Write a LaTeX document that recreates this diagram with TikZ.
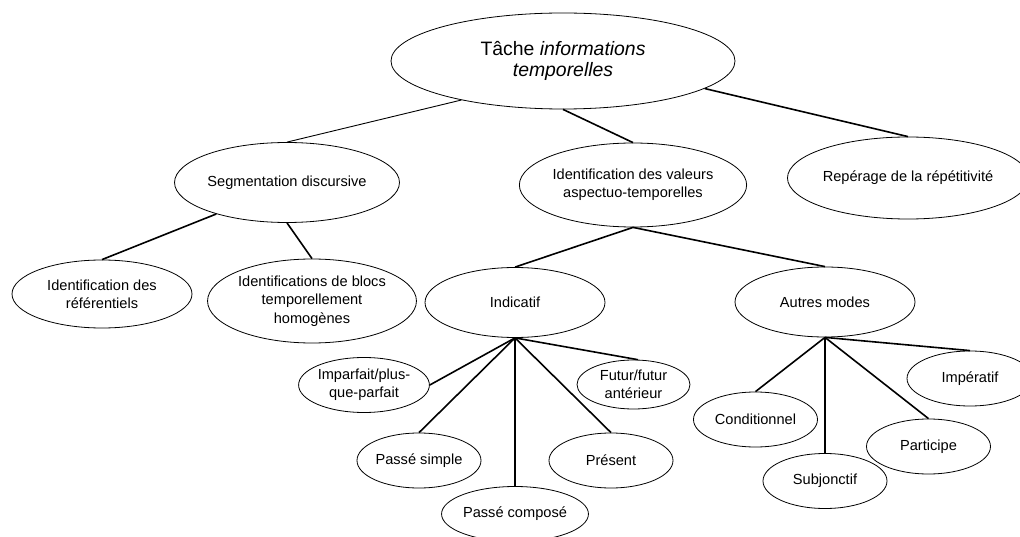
\documentclass[tikz,border=0pt]{standalone}
\usepackage{fontspec}
\setmainfont{Liberation Sans}
\usepackage{tikz}
\usetikzlibrary{shapes,positioning}

\begin{document}
\begin{tikzpicture}[
    x=1pt, y=-1pt,
    root/.style={ellipse, draw=black, fill=white, line width=0.8pt, inner sep=0pt, minimum width=344, minimum height=96, align=center, font=\fontsize{19.4}{21.7}\selectfont},
    task/.style={ellipse, draw=black, fill=white, line width=0.8pt, inner sep=0pt, align=center, font=\fontsize{14.6}{18.3}\selectfont},
    leaf/.style={task, minimum width=124, minimum height=55},
    link/.style={draw=black, line width=1.6pt},
    thinlink/.style={draw=black, line width=0.9pt}
]
\useasboundingbox (0,0) rectangle (1020,537);

% Root
\node [root] (tache) at (563,61) {T\^ache \textit{informations}\\\textit{temporelles}};

% First level
\node [task, minimum width=208, minimum height=80] (segm) at (287,182.5) {Segmentation discursive};
\node [task, minimum width=206, minimum height=84] (valeurs) at (633,185) {Identification des valeurs\\aspectuo-temporelles};
\node [task, minimum width=210, minimum height=82] (repet) at (908,178) {Rep\'erage de la r\'ep\'etitivit\'e};

% Segmentation level
\node [task, minimum width=180, minimum height=68] (referent) at (102,294) {Identification des\\r\'ef\'erentiels};
\node [task, minimum width=186, minimum height=84] (blocs) at (312,301) {Identifications de blocs\\temporellement\\homog\`enes};

% Modes
\node [task, minimum width=180, minimum height=70] (indic) at (515,302.5) {Indicatif};
\node [task, minimum width=180, minimum height=70] (autres) at (825,302) {Autres modes};

% Indicative tenses
\node [leaf] (imparf) at (364,385) {Imparfait/plus-\\que-parfait};
\node [leaf, minimum width=113, minimum height=49] (futur) at (633.5,384.5) {Futur/futur\\ant\'erieur};
\node [leaf] (psimple) at (419,460.5) {Pass\'e simple};
\node [leaf] (pcompose) at (515,514) {Pass\'e compos\'e};
\node [leaf] (present) at (611,460.5) {Pr\'esent};

% Other moods
\node [leaf] (condit) at (755.5,419.5) {Conditionnel};
\node [leaf] (subj) at (825,481) {Subjonctif};
\node [leaf] (partic) at (928.5,446.5) {Participe};
\node [leaf, minimum width=126] (imper) at (970,378.5) {Imp\'eratif};

% Links - Root
\draw [thinlink] (tache.201) -- (segm.north);
\draw [link] (tache.south) -- (valeurs.north);
\draw [link] (tache.-11) -- (repet.north);

% Links - Segmentation
\draw [link] (segm.204) -- (referent.north);
\draw [link] (segm.south) -- (blocs.north);

% Links - Values to modes
\draw [link] (valeurs.south) -- (indic.north);
\draw [link] (valeurs.south) -- (autres.north);

% Links - Indicatif
\draw [link] (indic.south) -- (imparf.east);
\draw [link] (indic.south) -- (psimple.north);
\draw [link] (indic.south) -- (pcompose.north);
\draw [link] (indic.south) -- (present.north);
\draw [link] (indic.south) -- (futur.80);

% Links - Autres modes
\draw [link] (autres.south) -- (condit.north);
\draw [link] (autres.south) -- (subj.north);
\draw [link] (autres.south) -- (partic.north);
\draw [link] (autres.south) -- (imper.north);

\end{tikzpicture}
\end{document}
